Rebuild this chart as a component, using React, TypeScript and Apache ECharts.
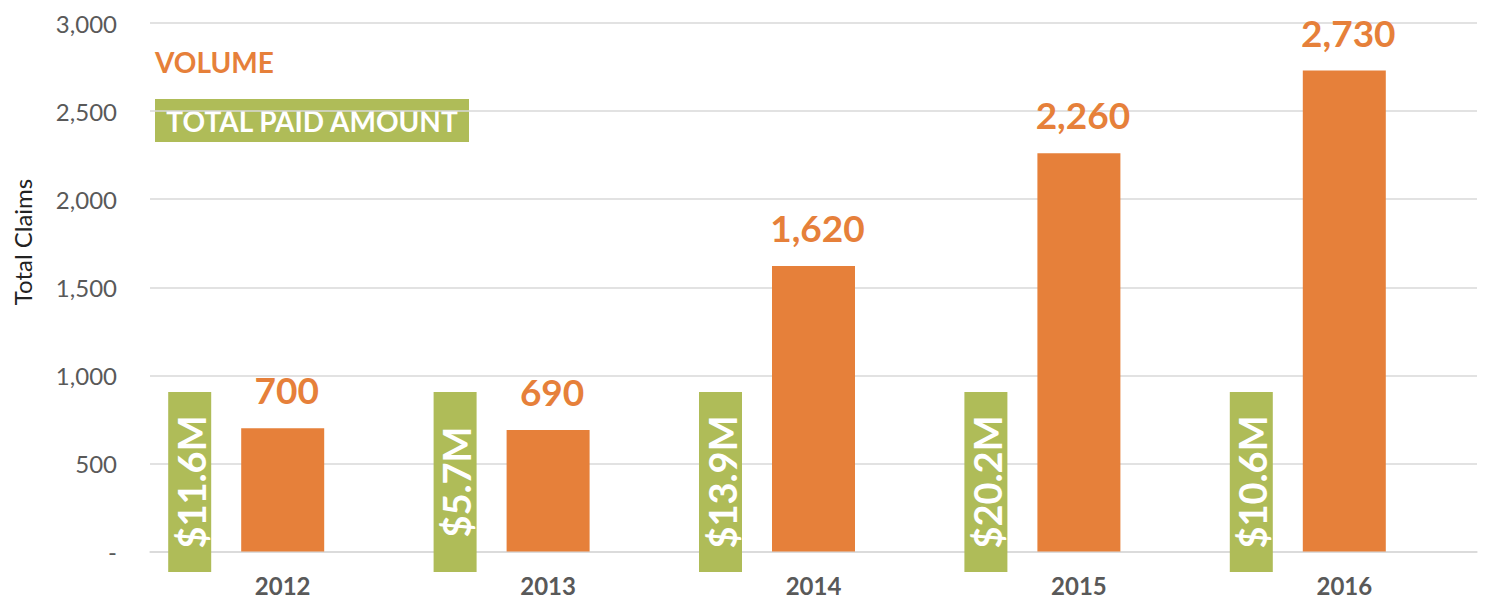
import React, { useEffect, useRef } from "react";
import * as echarts from "echarts";

const years = ["2012", "2013", "2014", "2015", "2016"];
const claims = [700, 690, 1620, 2260, 2730];
const paidMillions = [11.6, 5.7, 13.9, 20.2, 10.6];
const yTicks = [0, 500, 1000, 1500, 2000, 2500, 3000];

const ORANGE = "#E6803A";
const GREEN = "#AFBC58";
const GREY = "#595959";
const FONT = "Lato, 'Open Sans', sans-serif";

export default function App() {
  const ref = useRef<HTMLDivElement>(null);

  useEffect(() => {
    if (!ref.current) return;
    const chart = echarts.init(ref.current, undefined, { renderer: "svg" });
    const fmt = (v: number) => (v === 0 ? "-" : v.toLocaleString("en-US"));

    chart.setOption({
      animation: false,
      backgroundColor: "#ffffff",
      textStyle: { fontFamily: FONT },
      grid: { left: 150, right: 11, top: 23, bottom: 50.5, containLabel: false },
      xAxis: {
        type: "category",
        data: years,
        axisLine: { show: true, lineStyle: { color: "#d9d9d9", width: 1.5 } },
        axisTick: { show: false },
        axisLabel: {
          color: GREY,
          fontSize: 24,
          fontWeight: "bold",
          fontFamily: FONT,
          margin: 22,
        },
      },
      yAxis: {
        type: "value",
        min: yTicks[0],
        max: yTicks[yTicks.length - 1],
        interval: 500,
        axisLine: { show: false },
        axisTick: { show: false },
        splitLine: { lineStyle: { color: "#d9d9d9", width: 1.5 } },
        axisLabel: {
          color: GREY,
          fontSize: 24,
          fontFamily: FONT,
          margin: 33,
          formatter: (v: number) => fmt(v),
        },
      },
      graphic: [
        {
          type: "text",
          x: 22,
          y: 242,
          rotation: Math.PI / 2,
          style: {
            text: "Total Claims",
            fill: "#222222",
            font: `24px ${FONT}`,
            align: "center",
            verticalAlign: "middle",
          },
        },
        {
          type: "text",
          x: 155,
          y: 62,
          style: {
            text: "VOLUME",
            fill: ORANGE,
            font: `bold 28px ${FONT}`,
            align: "left",
            verticalAlign: "middle",
          },
        },
        {
          type: "rect",
          shape: { x: 155, y: 99, width: 314, height: 43 },
          style: { fill: GREEN },
        },
        {
          type: "text",
          x: 312,
          y: 120.5,
          style: {
            text: "TOTAL PAID AMOUNT",
            fill: "#ffffff",
            font: `bold 28px ${FONT}`,
            align: "center",
            verticalAlign: "middle",
          },
        },
      ],
      series: [
        {
          type: "bar",
          data: claims,
          barWidth: 83,
          itemStyle: { color: ORANGE },
          label: {
            show: true,
            position: "top",
            distance: 20,
            color: ORANGE,
            fontSize: 37,
            fontWeight: "bold",
            fontFamily: FONT,
            offset: [4, 0],
            formatter: (p: any) => fmt(p.value),
          },
        },
        {
          type: "custom",
          clip: false,
          data: paidMillions.map((v, i) => [i, v]),
          encode: { x: 0, y: 1 },
          renderItem: (params: any, api: any) => {
            const idx = api.value(0);
            const val = api.value(1);
            const pt = api.coord([idx, 0]);
            const cx = pt[0] - 93;
            const y0 = pt[1];
            return {
              type: "group",
              children: [
                {
                  type: "rect",
                  shape: { x: cx - 21.5, y: y0 - 159.5, width: 43, height: 180 },
                  style: { fill: GREEN },
                },
                {
                  type: "text",
                  x: cx + 1,
                  y: y0 - 69.5,
                  rotation: Math.PI / 2,
                  style: {
                    text: `$${val.toFixed(1)}M`,
                    fill: "#ffffff",
                    font: `bold 38px ${FONT}`,
                    align: "center",
                    verticalAlign: "middle",
                  },
                },
              ],
            };
          },
        },
      ],
    });

    return () => chart.dispose();
  }, []);

  return (
    <div
      ref={ref}
      style={{ position: "fixed", left: 0, top: 0, width: 1488, height: 602 }}
    />
  );
}
